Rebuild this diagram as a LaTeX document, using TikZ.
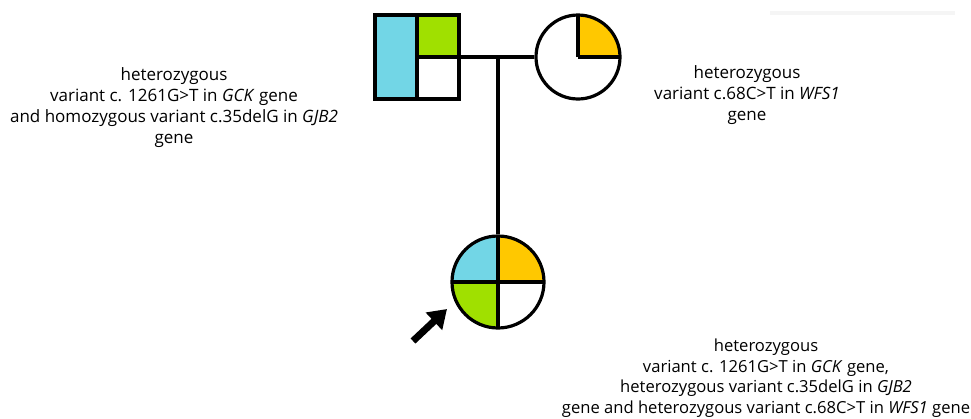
\documentclass[tikz,border=0pt]{standalone}
\usepackage{fontspec}
\setmainfont{Open Sans}
\usetikzlibrary{arrows.meta}
\definecolor{gckblue}{HTML}{72D6E6}
\definecolor{gjbgreen}{HTML}{A0E000}
\definecolor{wfsyellow}{HTML}{FFC800}
\tikzset{
  pedline/.style={line width=3.2pt, black},
  note/.style={align=center, font=\fontsize{17}{21}\selectfont, inner sep=0pt},
}
\begin{document}
\begin{tikzpicture}[x=1pt, y=-1pt]
\useasboundingbox (0,0) rectangle (971,418);
% faint band in the top right corner
\fill[black!4] (770,11) rectangle (955,15);
% father: square, left half GCK, top right GJB2
\fill[gckblue] (375,15) rectangle (417,99);
\fill[gjbgreen] (417,15) rectangle (459,57);
\draw[pedline] (417,15) -- (417,99) (417,57) -- (459,57);
\node[draw, pedline, minimum size=84pt, inner sep=0pt] (father) at (417,57) {};
% mother: circle, upper right quadrant WFS1
\begin{scope}
  \clip (578,57) circle[radius=42pt];
  \fill[wfsyellow] (578,57) rectangle (620,15);
\end{scope}
\draw[pedline] (578,57) -- (620,57) (578,57) -- (578,15);
\node[draw, pedline, circle, minimum size=84pt, inner sep=0pt] (mother) at (578,57) {};
% proband: circle with all four quadrants
\begin{scope}
  \clip (498,282) circle[radius=46pt];
  \fill[gckblue] (452,236) rectangle (498,282);
  \fill[wfsyellow] (498,236) rectangle (544,282);
  \fill[gjbgreen] (452,282) rectangle (498,328);
\end{scope}
\draw[pedline] (452,282) -- (544,282) (498,236) -- (498,328);
\node[draw, pedline, circle, minimum size=92pt, inner sep=0pt] (child) at (498,282) {};
% mating and descent lines
\draw[pedline] (father.east) -- (mother.west);
\coordinate (drop) at (498,57);
\draw[pedline] (drop) -- (child.north);
% proband arrow
\coordinate (atail) at (413,341);
\coordinate (ahead) at (447,309);
\draw[line width=7pt, -{Triangle[length=18pt, width=23pt]}] (atail) -- (ahead);
% genotype notes
\node[note] (fnote) at (174,108) {heterozygous\\variant c. 1261G>T in \textit{GCK} gene\\and homozygous variant c.35delG in \textit{GJB2}\\gene};
\node[note] (mnote) at (747,95) {heterozygous\\variant c.68C>T in \textit{WFS1}\\gene};
\node[note, font=\fontsize{16.6}{20.6}\selectfont] (pnote) at (766,378) {heterozygous\\variant c. 1261G>T in \textit{GCK} gene,\\heterozygous variant c.35delG in \textit{GJB2}\\gene and heterozygous variant c.68C>T in \textit{WFS1} gene};
\end{tikzpicture}
\end{document}
